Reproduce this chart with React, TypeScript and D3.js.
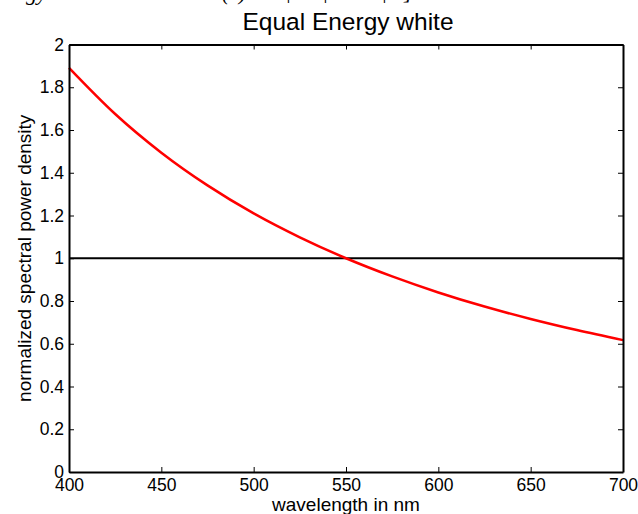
import * as d3 from 'd3'
import { useEffect, useRef } from 'react'

// wavelengths (nm) and normalized spectral power density
const wavelengths = [400, 425, 450, 475, 500, 525, 550, 575, 600, 625, 650, 675, 700]
const redValues = [1.891, 1.675, 1.494, 1.341, 1.21, 1.098, 1.0, 0.915, 0.84, 0.774, 0.716, 0.664, 0.617]
const blackValues = [1, 1, 1, 1, 1, 1, 1, 1, 1, 1, 1, 1, 1]
const xTicks = [400, 450, 500, 550, 600, 650, 700]
const yTicks = [0, 0.2, 0.4, 0.6, 0.8, 1, 1.2, 1.4, 1.6, 1.8, 2]

const chartTitle = 'Equal Energy white'
const xLabel = 'wavelength in nm'
const yLabel = 'normalized spectral power density'

const FONT = '"Liberation Sans", Arial, Helvetica, sans-serif'

export default function App() {
  const ref = useRef<SVGSVGElement>(null)

  useEffect(() => {
    const svg = d3.select(ref.current)
    svg.selectAll('*').remove()
    const width = 638
    const height = 514
    const margin = { top: 44.5, right: 15, bottom: 42, left: 69 }

    const x = d3
      .scaleLinear()
      .domain([400, 700])
      .range([margin.left, width - margin.right])
    const y = d3
      .scaleLinear()
      .domain([0, 2])
      .range([height - margin.bottom, margin.top])

    // cropped text from the page above the figure (only the bottoms show)
    const top = svg.append('g').attr('font-family', '"Liberation Serif", "Times New Roman", serif')
      .attr('font-style', 'italic').attr('font-size', 22).attr('fill', '#000')
    top.append('text').attr('x', 26).attr('y', 0).text('gy')
    top.append('text').attr('x', 222).attr('y', 0).text('(λ)')
    ;[285, 322, 381].forEach((px) => top.append('text').attr('x', px).attr('y', -2).text('|'))
    top.append('text').attr('x', 404).attr('y', -1).text(']')

    const lines = svg.append('g')
    const line = (vals: number[]) =>
      d3
        .line<number>()
        .x((_, i) => x(wavelengths[i]))
        .y((d) => y(d))
        .curve(d3.curveMonotoneX)(vals)

    lines
      .append('path')
      .attr('d', line(blackValues))
      .attr('fill', 'none')
      .attr('stroke', '#000')
      .attr('stroke-width', 2)
    lines
      .append('path')
      .attr('d', line(redValues))
      .attr('fill', 'none')
      .attr('stroke', '#ff0000')
      .attr('stroke-width', 2.5)

    // axes, ticks inward on all four sides like matlab
    const tick = 5
    const styleAxis = (g: d3.Selection<SVGGElement, unknown, null, undefined>) => {
      g.attr('font-family', FONT).attr('font-size', 17.5)
      g.select('.domain').attr('stroke', '#000').attr('stroke-width', 2)
      g.selectAll('.tick line').attr('stroke', '#000').attr('stroke-width', 1)
      g.selectAll('.tick text').attr('fill', '#000')
    }
    svg
      .append('g')
      .attr('transform', `translate(0,${height - margin.bottom})`)
      .call(d3.axisBottom(x).tickValues(xTicks).tickSizeInner(-tick).tickSizeOuter(0).tickPadding(7).tickFormat(d3.format('d')))
      .call(styleAxis)
    svg
      .append('g')
      .attr('transform', `translate(0,${margin.top})`)
      .call(d3.axisTop(x).tickValues(xTicks).tickSizeInner(-tick).tickSizeOuter(0).tickFormat(() => ''))
      .call(styleAxis)
    svg
      .append('g')
      .attr('transform', `translate(${margin.left},0)`)
      .call(d3.axisLeft(y).tickValues(yTicks).tickSizeInner(-tick).tickSizeOuter(0).tickPadding(5).tickFormat((d) => String(d)))
      .call(styleAxis)
    svg
      .append('g')
      .attr('transform', `translate(${width - margin.right},0)`)
      .call(d3.axisRight(y).tickValues(yTicks).tickSizeInner(-tick).tickSizeOuter(0).tickFormat(() => ''))
      .call(styleAxis)

    svg
      .append('text')
      .attr('x', (margin.left + width - margin.right) / 2 + 2)
      .attr('y', 30)
      .attr('text-anchor', 'middle')
      .attr('font-family', FONT)
      .attr('font-size', 24.5)
      .text(chartTitle)

    svg
      .append('text')
      .attr('x', (margin.left + width - margin.right) / 2)
      .attr('y', 511)
      .attr('text-anchor', 'middle')
      .attr('font-family', FONT)
      .attr('font-size', 19)
      .text(xLabel)

    svg
      .append('text')
      .attr('transform', `translate(31,${(margin.top + height - margin.bottom) / 2}) rotate(-90)`)
      .attr('text-anchor', 'middle')
      .attr('font-family', FONT)
      .attr('font-size', 19)
      .text(yLabel)
  }, [])

  return (
    <svg
      ref={ref}
      width={638}
      height={514}
      style={{ position: 'absolute', left: 0, top: 0, background: '#fff', display: 'block' }}
    />
  )
}
